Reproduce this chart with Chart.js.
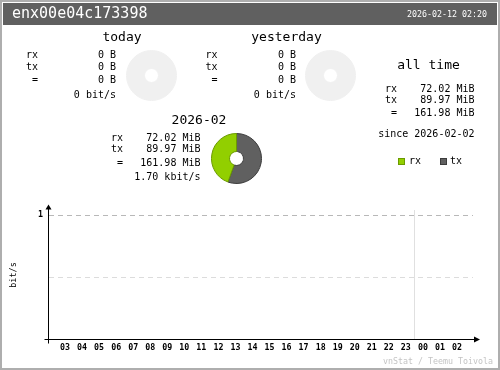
<!DOCTYPE html>
<html>
<head>
<meta charset="utf-8">
<title>vnStat enx00e04c173398</title>
<script src="https://cdn.jsdelivr.net/npm/chart.js@4.4.1/dist/chart.umd.min.js"></script>
<style>
    body { margin: 0; background: #fff; }
    #img { position: relative; width: 500px; height: 370px; background: #fff; overflow: hidden;
           font-family: "DejaVu Sans Mono", monospace; color: #000; }
    #edge { position: absolute; left: 0; top: 0; width: 500px; height: 370px; box-sizing: border-box;
            border: 2px solid #aeaeae; }
    #header { position: absolute; left: 3px; top: 3px; width: 494px; height: 22px; background: #606060; }
    .t { position: absolute; white-space: pre; line-height: 1; }
    canvas { position: absolute; }
    .sq { position: absolute; width: 5px; height: 5px; border: 1px solid; }
</style>
</head>
<body>
<div id="img">
    <div id="header"></div>
    <canvas id="hourly" width="500" height="180" style="left:0;top:190px"></canvas>
    <div id="edge"></div>
</div>
<script>
// datos de la interfaz
var interfaz = 'enx00e04c173398';
var fecha = '2026-02-12 02:20';
var desde = 'since 2026-02-02';

// periodos: hoy, ayer, mes y total (valores en MiB)
var periodos = ['today', 'yesterday', '2026-02', 'all time'];
var rxMiB = [0, 0, 72.02, 72.02];
var txMiB = [0, 0, 89.97, 89.97];
var totalMiB = [0, 0, 161.98, 161.98];
var tasas = ['0 bit/s', '0 bit/s', '1.70 kbit/s', ''];

// grafico por horas
var horas = ['03', '04', '05', '06', '07', '08', '09', '10', '11', '12', '13', '14',
             '15', '16', '17', '18', '19', '20', '21', '22', '23', '00', '01', '02'];
var horaRx = [0, 0, 0, 0, 0, 0, 0, 0, 0, 0, 0, 0, 0, 0, 0, 0, 0, 0, 0, 0, 0, 0, 0, 0];
var horaTx = [0, 0, 0, 0, 0, 0, 0, 0, 0, 0, 0, 0, 0, 0, 0, 0, 0, 0, 0, 0, 0, 0, 0, 0];
var ticksY = [0, 0.5, 1];
var etiquetasY = ['', '', '1'];

var FUENTE = '"DejaVu Sans Mono", monospace';
var COLOR_RX = '#92cf00';
var COLOR_TX = '#606060';
var COLOR_RX_D = '#6b9a00';
var COLOR_TX_D = '#3c3c3c';

var caja = document.getElementById('img');

// Esta función coloca un texto (x, y es el centro vertical)
function texto(str, x, y, size, align, color) {
    var d = document.createElement('div');
    d.className = 't';
    d.textContent = str;
    d.style.fontSize = size + 'px';
    d.style.top = (y - size * 0.55) + 'px';
    if (align === 'right') {
        d.style.right = (500 - x) + 'px';
    } else if (align === 'center') {
        d.style.left = x + 'px';
        d.style.transform = 'translateX(-50%)';
    } else {
        d.style.left = x + 'px';
    }
    if (color) d.style.color = color;
    caja.appendChild(d);
}

function formato(v) {
    return v === 0 ? '0 B' : v.toFixed(2) + ' MiB';
}

// Esta función dibuja un pastel rx/tx
function pastel(cx, cy, rx, tx) {
    var c = document.createElement('canvas');
    c.width = 51;
    c.height = 51;
    c.style.left = (cx - 25.5) + 'px';
    c.style.top = (cy - 25.5) + 'px';
    caja.appendChild(c);
    var vacio = (rx + tx) === 0;
    new Chart(c, {
        type: 'doughnut',
        data: {
            labels: vacio ? [''] : ['tx', 'rx'],
            datasets: [{
                data: vacio ? [1] : [tx, rx],
                backgroundColor: vacio ? ['#f0f0f0'] : [COLOR_TX, COLOR_RX],
                borderColor: vacio ? ['#f0f0f0'] : [COLOR_TX_D, COLOR_RX_D],
                borderWidth: 1
            }]
        },
        options: {
            responsive: false, animation: false, events: [],
            cutout: '28%',
            plugins: { legend: { display: false }, tooltip: { enabled: false } }
        }
    });
}

// Bloque de un periodo: titulo, filas y pastel
function bloque(i, tx0, lx, vx, filas, tasaY, pcx, pcy) {
    texto(periodos[i], tx0[0], tx0[1], 13, 'center');
    var etiquetas = ['rx', 'tx', ' ='];
    var valores = [rxMiB[i], txMiB[i], totalMiB[i]];
    for (var k = 0; k < 3; k++) {
        texto(etiquetas[k], lx, filas[k], 10, 'left');
        texto(formato(valores[k]), vx, filas[k], 10, 'right');
    }
    if (tasas[i]) texto(tasas[i], vx, tasaY, 10, 'right');
    if (pcx) pastel(pcx, pcy, rxMiB[i], txMiB[i]);
}

// cabecera
texto(interfaz, 12, 14, 15, 'left', '#ffffff');
texto(fecha, 487, 15, 8.3, 'right', '#ffffff');

bloque(0, [122, 37], 26, 116, [55, 67, 80.5], 95.5, 151, 75);
bloque(1, [286.5, 37], 205.5, 296, [55, 67, 80.5], 95.5, 330.5, 75);
bloque(2, [199, 120], 111, 200.5, [138, 149.5, 163.5], 177.5, 236, 158.5);
bloque(3, [428.5, 65.5], 385, 474.5, [89, 100.5, 113], 0, 0, 0);
texto(desde, 474.5, 134, 10, 'right');

// leyenda
function cuadro(x, y, fondo, borde) {
    var s = document.createElement('div');
    s.className = 'sq';
    s.style.left = x + 'px';
    s.style.top = y + 'px';
    s.style.background = fondo;
    s.style.borderColor = borde;
    caja.appendChild(s);
}
cuadro(398, 158, COLOR_RX, COLOR_RX_D);
texto('rx', 409, 161.5, 10, 'left');
cuadro(440, 158, COLOR_TX, COLOR_TX_D);
texto('tx', 450, 161.5, 10, 'left');

texto('vnStat / Teemu Toivola', 493, 361.5, 8.3, 'right', '#c4c4c4');

// ejes con flechas y linea de cambio de dia
var ejesPlugin = {
    id: 'ejes',
    beforeDatasetsDraw: function (chart) {
        var ctx = chart.ctx, a = chart.chartArea;
        var xd = Math.floor(chart.scales.x.getPixelForValue(horas.indexOf('00') - 0.5)) + 0.5;
        ctx.save();
        ctx.strokeStyle = '#e0e0e0';
        ctx.lineWidth = 1;
        ctx.beginPath();
        ctx.moveTo(xd, a.top);
        ctx.lineTo(xd, a.bottom);
        ctx.stroke();
        ctx.restore();
    },
    afterDraw: function (chart) {
        var ctx = chart.ctx, a = chart.chartArea;
        var y0 = Math.round(chart.scales.y.getPixelForValue(0)) - 0.5;
        var x0 = Math.round(a.left) - 0.5;
        ctx.save();
        ctx.strokeStyle = '#000';
        ctx.fillStyle = '#000';
        ctx.lineWidth = 1;
        ctx.beginPath();
        ctx.moveTo(x0 - 4, y0);
        ctx.lineTo(a.right + 4, y0);
        ctx.moveTo(x0, y0 + 4);
        ctx.lineTo(x0, a.top - 3);
        ctx.stroke();
        ctx.beginPath();
        ctx.moveTo(a.right + 1, y0 - 3);
        ctx.lineTo(a.right + 1, y0 + 3);
        ctx.lineTo(a.right + 7, y0);
        ctx.closePath();
        ctx.fill();
        ctx.beginPath();
        ctx.moveTo(x0 - 3, a.top - 0.5);
        ctx.lineTo(x0 + 3, a.top - 0.5);
        ctx.lineTo(x0, a.top - 5.5);
        ctx.closePath();
        ctx.fill();
        ctx.restore();
    }
};

new Chart(document.getElementById('hourly'), {
    type: 'bar',
    data: {
        datasets: [{
            label: 'rx',
            data: horaRx.map(function (v, i) { return { x: i - 0.15, y: v }; }),
            backgroundColor: COLOR_RX,
            barThickness: 5
        }, {
            label: 'tx',
            data: horaTx.map(function (v, i) { return { x: i + 0.15, y: v }; }),
            backgroundColor: COLOR_TX,
            barThickness: 5
        }]
    },
    options: {
        responsive: false, animation: false, events: [],
        layout: { padding: { top: 20, right: 27, bottom: 14, left: 0 } },
        plugins: { legend: { display: false }, tooltip: { enabled: false } },
        scales: {
            x: {
                type: 'linear', min: -0.939, max: 23.939, offset: false,
                afterBuildTicks: function (s) {
                    s.ticks = horas.map(function (h, i) { return { value: i }; });
                },
                afterFit: function (s) { s.height = 16; },
                grid: { display: false, drawTicks: false },
                border: { display: false },
                ticks: {
                    autoSkip: false, maxRotation: 0, padding: 3, color: '#000',
                    font: { family: FUENTE, size: 8.3, weight: 'bold' },
                    callback: function (v) { return horas[v]; }
                }
            },
            y: {
                min: 0, max: 1.04,
                afterBuildTicks: function (s) {
                    s.ticks = ticksY.map(function (v) { return { value: v }; });
                },
                afterFit: function (s) { s.width = 49; },
                grid: {
                    drawTicks: false,
                    color: function (c) {
                        if (c.tick.value === 1) return '#b8b8b8';
                        if (c.tick.value === 0.5) return '#dcdcdc';
                        return 'rgba(0,0,0,0)';
                    }
                },
                border: { display: false, dash: [5, 4] },
                ticks: {
                    padding: 6, color: '#000',
                    font: { family: FUENTE, size: 8.3, weight: 'bold' },
                    callback: function (v) { return etiquetasY[ticksY.indexOf(v)]; }
                },
                title: {
                    display: true, text: 'bit/s', color: '#000',
                    padding: { top: 9, bottom: 0 },
                    font: { family: FUENTE, size: 8.5 }
                }
            }
        }
    },
    plugins: [ejesPlugin]
});
</script>
</body>
</html>
